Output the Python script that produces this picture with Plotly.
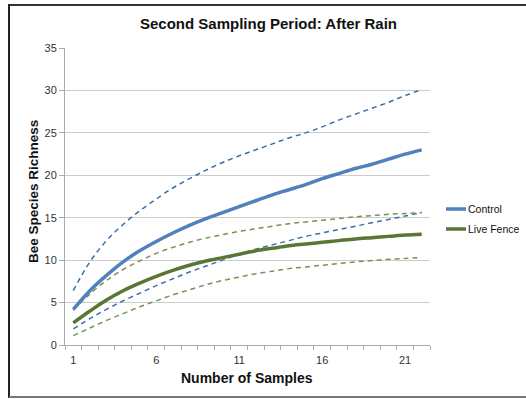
import plotly.graph_objects as go

samples = list(range(1, 23))
control = [4.2, 6.4, 8.2, 9.8, 11.1, 12.2, 13.2, 14.1, 14.9, 15.6, 16.3, 17.0,
           17.7, 18.3, 18.9, 19.6, 20.2, 20.8, 21.3, 21.9, 22.5, 23.0]
control_upper = [6.4, 9.8, 12.3, 14.2, 15.8, 17.2, 18.5, 19.6, 20.6, 21.5, 22.3, 23.0,
                 23.7, 24.4, 25.0, 25.7, 26.5, 27.2, 27.9, 28.6, 29.4, 30.1]
control_lower = [1.9, 3.1, 4.2, 5.2, 6.1, 7.0, 7.8, 8.6, 9.3, 10.0, 10.7, 11.3,
                 11.8, 12.3, 12.8, 13.2, 13.6, 14.0, 14.4, 14.8, 15.2, 15.6]
fence = [2.6, 4.0, 5.3, 6.4, 7.3, 8.1, 8.8, 9.4, 9.9, 10.3, 10.7, 11.1,
         11.4, 11.7, 11.9, 12.1, 12.3, 12.5, 12.65, 12.8, 12.95, 13.05]
fence_upper = [4.1, 6.0, 7.6, 8.9, 9.9, 10.8, 11.5, 12.1, 12.6, 13.0, 13.4, 13.7,
               14.0, 14.3, 14.5, 14.7, 14.9, 15.1, 15.25, 15.4, 15.5, 15.6]
fence_lower = [1.1, 2.0, 2.9, 3.7, 4.5, 5.2, 5.9, 6.5, 7.1, 7.6, 8.0, 8.4,
               8.7, 9.0, 9.2, 9.4, 9.6, 9.8, 9.95, 10.1, 10.2, 10.3]
series_names = ["Control", "Live Fence"]
x_tick_labels = ["1", "6", "11", "16", "21"]
x_tick_vals = [1, 6, 11, 16, 21]

FONT = "Liberation Sans, Arial, sans-serif"
W, H = 526, 399
L, R, T, B = 65, 96, 48, 54
pw, ph = W - L - R, H - T - B

def px_x(p):
    return (p - L) / pw

def px_y(p):
    return (H - B - p) / ph

BLUE = "#4F81BD"
BLUE_D = "#3C6EA6"
GREEN = "#5A7634"
GREEN_D = "#7B8F58"
dash = "5px,4px"

fig = go.Figure()
for ys, col in [(control_upper, BLUE_D), (control_lower, BLUE_D),
                (fence_upper, GREEN_D), (fence_lower, GREEN_D)]:
    fig.add_trace(go.Scatter(x=samples, y=ys, mode="lines", showlegend=False,
                             line=dict(color=col, width=1.5, dash=dash, shape="spline"),
                             hoverinfo="skip"))
fig.add_trace(go.Scatter(x=samples, y=control, mode="lines", name=series_names[0],
                         showlegend=False,
                         line=dict(color=BLUE, width=3.5, shape="spline")))
fig.add_trace(go.Scatter(x=samples, y=fence, mode="lines", name=series_names[1],
                         showlegend=False,
                         line=dict(color=GREEN, width=3.5, shape="spline")))

shapes = [
    dict(type="line", xref="paper", yref="paper", x0=px_x(9), x1=px_x(540),
         y0=px_y(5), y1=px_y(5), line=dict(color="#333", width=2)),
    dict(type="line", xref="paper", yref="paper", x0=px_x(9), x1=px_x(9),
         y0=px_y(4), y1=px_y(398), line=dict(color="#222", width=2)),
    dict(type="line", xref="paper", yref="paper", x0=px_x(9), x1=px_x(540),
         y0=px_y(397), y1=px_y(397), line=dict(color="#777", width=2)),
]
annotations = [
    dict(text="<b>Second Sampling Period: After Rain</b>", xref="paper", yref="paper",
         x=px_x(268), y=px_y(24), xanchor="center", yanchor="middle",
         showarrow=False, font=dict(size=15, color="#111")),
    dict(text="<b>Number of Samples</b>", xref="paper", yref="paper",
         x=px_x(247), y=px_y(378), xanchor="center", yanchor="middle",
         showarrow=False, font=dict(size=14, color="#111")),
    dict(text="<b>Bee Species Richness</b>", xref="paper", yref="paper",
         x=px_x(33), y=px_y(192), xanchor="center", yanchor="middle",
         textangle=-90, showarrow=False, font=dict(size=13.5, color="#111")),
]
# legend drawn manually so the plot area keeps its size
for i, (name, col) in enumerate(zip(series_names, [BLUE, GREEN])):
    yy = 209 + 20 * i
    shapes.append(dict(type="line", xref="paper", yref="paper",
                       x0=px_x(446), x1=px_x(466), y0=px_y(yy), y1=px_y(yy),
                       line=dict(color=col, width=3.5)))
    annotations.append(dict(text=name, xref="paper", yref="paper",
                            x=px_x(466), y=px_y(yy), xanchor="left", yanchor="middle",
                            showarrow=False, font=dict(size=10.5, color="#111")))

fig.update_layout(
    width=W, height=H,
    margin=dict(l=L, r=R, t=T, b=B),
    paper_bgcolor="white", plot_bgcolor="white",
    font=dict(family=FONT, size=11, color="#222"),
    showlegend=False,
    xaxis=dict(range=[0.5, 22.5], tickvals=x_tick_vals, ticktext=x_tick_labels,
               showgrid=False, zeroline=False, showline=True, linecolor="#aaaaaa",
               linewidth=1, ticks="", tickfont=dict(size=11, color="#333"),
               ticklabelstandoff=5,
               minor=dict(tick0=0.5, dtick=1, ticks="outside", ticklen=4,
                          tickcolor="#aaaaaa", showgrid=False),
               fixedrange=True),
    yaxis=dict(range=[0, 35], tick0=0, dtick=5, showgrid=True, gridcolor="#cccccc",
               gridwidth=1, zeroline=False, showline=True, linecolor="#aaaaaa",
               linewidth=1, ticks="outside", ticklen=5, tickcolor="#aaaaaa",
               tickfont=dict(size=11, color="#333"), fixedrange=True),
    annotations=annotations,
    shapes=shapes,
)

fig.write_html("out.html")
